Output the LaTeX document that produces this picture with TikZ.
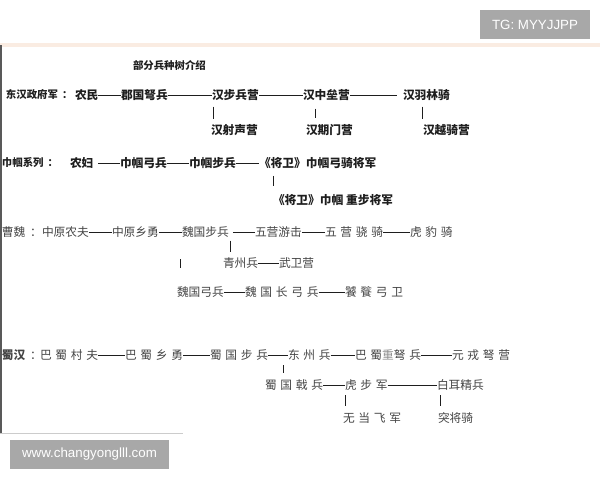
\documentclass[tikz,border=0pt]{standalone}
\usepackage{fontspec}
\setmainfont{Liberation Sans}
\newfontfamily\cjk{Noto Sans CJK SC}
\newfontfamily\cjksp{Noto Sans CJK SC}[LetterSpace=32]
\definecolor{peachline}{RGB}{250,236,226}
\definecolor{badgegray}{RGB}{168,168,168}
\definecolor{textdark}{RGB}{30,30,30}
\definecolor{textgray}{RGB}{68,68,68}
\usetikzlibrary{calc}

\begin{document}
\begin{tikzpicture}[x=0.75pt, y=-0.75pt,
    unit/.style={anchor=west, inner sep=0pt, outer sep=0pt, text=textgray, font=\cjk\fontsize{8.8}{10}\selectfont},
    unitbold/.style={unit, text=textdark, font=\cjk\bfseries\fontsize{8.8}{10}\selectfont},
    unitwide/.style={unit, font=\cjksp\fontsize{8.8}{10}\selectfont},
    rowlabel/.style={unitbold, font=\cjk\bfseries\fontsize{7.8}{9}\selectfont},
    link/.style={draw=textdark, line width=0.6pt},
    bar/.style={draw=textdark, line width=0.6pt},
    badge/.style={fill=badgegray, text=white, inner sep=0pt, minimum height=21.75pt, font=\fontsize{10}{12}\selectfont}]
    \useasboundingbox (0,0) rectangle (600,480);
    % frame and tags
    \fill[peachline] (0,43) rectangle (600,47);
    \fill[black!65] (0,45) rectangle (2,433);
    \fill[black!20] (0,432.5) rectangle (183,434);
    \node[badge, minimum width=82.5pt] (tgtag) at (535,24.5) {TG: MYYJJPP};
    \node[badge, minimum width=119.25pt] (sitetag) at (89.5,454.5) {www.changyonglll.com};
    \node[rowlabel] (title) at (133,65) {部分兵种树介绍};

    % 东汉
    \node[rowlabel] (dhlabel) at (6,95) {东汉政府军 \,：};
    \node[unitbold] (nm) at (75,95) {农民};
    \node[unitbold] (jgnb) at (121,95) {郡国弩兵};
    \node[unitbold] (hbby) at (212,95) {汉步兵营};
    \node[unitbold] (hzly) at (303,95) {汉中垒营};
    \node[unitbold] (hylq) at (403,95) {汉羽林骑};
    \node[unitbold] (hssy) at (211,130) {汉射声营};
    \node[unitbold] (hqmy) at (306,130) {汉期门营};
    \node[unitbold] (hyqy) at (423,130) {汉越骑营};
    \draw[link] (nm) -- (jgnb);
    \draw[link] (jgnb) -- (hbby);
    \draw[link] (hbby) -- (hzly);
    \draw[link, shorten >=4.5pt] (hzly) -- (hylq);
    \coordinate (hbbybar) at ($(hbby.south west)+(1,0)$);
    \coordinate (hzlybar) at ($(hzly.south west)+(12,0)$);
    \coordinate (hylqbar) at ($(hylq.south west)+(19,0)$);
    \draw[bar, shorten <=4.5pt, shorten >=4pt] (hbbybar) -- (hbbybar |- hssy.north);
    \draw[bar, shorten <=6pt, shorten >=4.5pt] (hzlybar) -- (hzlybar |- hqmy.north);
    \draw[bar, shorten <=4.5pt, shorten >=4pt] (hylqbar) -- (hylqbar |- hyqy.north);

    % 巾帼
    \node[rowlabel] (jglabel) at (2,163) {巾帼系列 \,：};
    \node[unitbold] (nf) at (70,163) {农妇};
    \node[unitbold] (jggb) at (120,163) {巾帼弓兵};
    \node[unitbold] (jgbb) at (189,163) {巾帼步兵};
    \node[unitbold] (jwgq) at (259,163) {《将卫》巾帼弓骑将军};
    \node[unitbold] (jwzb) at (273,200) {《将卫》巾帼 重步将军};
    \draw[link, shorten <=3.75pt] (nf) -- (jggb);
    \draw[link] (jggb) -- (jgbb);
    \draw[link] (jgbb) -- (jwgq);
    \coordinate (jwgqbar) at ($(jwgq.south west)+(14,0)$);
    \draw[bar, shorten <=5.5pt, shorten >=6pt] (jwgqbar) -- (jwgqbar |- jwzb.north);

    % 曹魏
    \node[unit] (cwlabel) at (2,232) {曹魏 \,：};
    \node[unit] (zynf) at (42,232) {中原农夫};
    \node[unit] (zyxy) at (112,232) {中原乡勇};
    \node[unit] (wgbb) at (182,232) {魏国步兵};
    \node[unit] (wyyj) at (255,232) {五营游击};
    \node[unitwide] (wyxq) at (325,232) {五营骁骑};
    \node[unitwide] (hbq) at (410,232) {虎豹骑};
    \node[unit] (qzb) at (223,263) {青州兵};
    \node[unit] (wwy) at (279,263) {武卫营};
    \node[unit] (wggb) at (177,292) {魏国弓兵};
    \node[unitwide] (wgcgb) at (245,292) {魏国长弓兵};
    \node[unitwide] (ttgw) at (345,292) {饕餮弓卫};
    \draw[link] (zynf) -- (zyxy);
    \draw[link] (zyxy) -- (wgbb);
    \draw[link, shorten <=3pt] (wgbb) -- (wyyj);
    \draw[link] (wyyj) -- (wyxq);
    \draw[link] (wyxq) -- (hbq);
    \draw[link] (qzb) -- (wwy);
    \draw[link] (wggb) -- (wgcgb);
    \draw[link] (wgcgb) -- (ttgw);
    \coordinate (wgbbbar) at ($(wgbb.south west)+(48,0)$);
    \draw[bar, shorten <=2.5pt, shorten >=4.5pt] (wgbbbar) -- (wgbbbar |- qzb.north);
    \coordinate (wggbbar) at ($(wggb.north west)+(3,-19)$);
    \coordinate (wggbtop) at ($(wggb.north west)+(3,-28)$);
    \draw[bar] (wggbbar) -- (wggbtop);

    % 蜀汉
    \node[unit] (shlabel) at (2,355) {\textbf{蜀汉} \,：};
    \node[unitwide] (bscf) at (40,355) {巴蜀村夫};
    \node[unitwide] (bsxy) at (125,355) {巴蜀乡勇};
    \node[unitwide] (sgbb) at (210,355) {蜀国步兵};
    \node[unitwide] (dzb) at (288,355) {东州兵};
    \node[unitwide] (bsznb) at (355,355) {巴蜀\textcolor{black!45}{重}弩兵};
    \node[unitwide] (ryny) at (452,355) {元戎弩营};
    \node[unitwide] (sgjb) at (265,385) {蜀国戟兵};
    \node[unitwide] (hbj) at (345,385) {虎步军};
    \node[unit] (bejb) at (437,385) {白耳精兵};
    \node[unitwide] (wdfj) at (343,418) {无当飞军};
    \node[unit] (tjq) at (438,418) {突将骑};
    \draw[link] (bscf) -- (bsxy);
    \draw[link] (bsxy) -- (sgbb);
    \draw[link] (sgbb) -- (dzb);
    \draw[link] (dzb) -- (bsznb);
    \draw[link] (bsznb) -- (ryny);
    \draw[link] (sgjb) -- (hbj);
    \draw[link] (hbj) -- (bejb);
    \coordinate (sgjbbar) at ($(sgjb.north west)+(18,0)$);
    \coordinate (hbjbar) at ($(hbj.south west)+(0,0)$);
    \coordinate (bejbbar) at ($(bejb.south west)+(3,0)$);
    \draw[bar, shorten <=3.5pt, shorten >=5pt] (sgjbbar |- sgbb.south) -- (sgjbbar);
    \draw[bar, shorten <=3.5pt, shorten >=5pt] (hbjbar) -- (hbjbar |- wdfj.north);
    \draw[bar, shorten <=3.5pt, shorten >=5pt] (bejbbar) -- (bejbbar |- tjq.north);
\end{tikzpicture}
\end{document}
